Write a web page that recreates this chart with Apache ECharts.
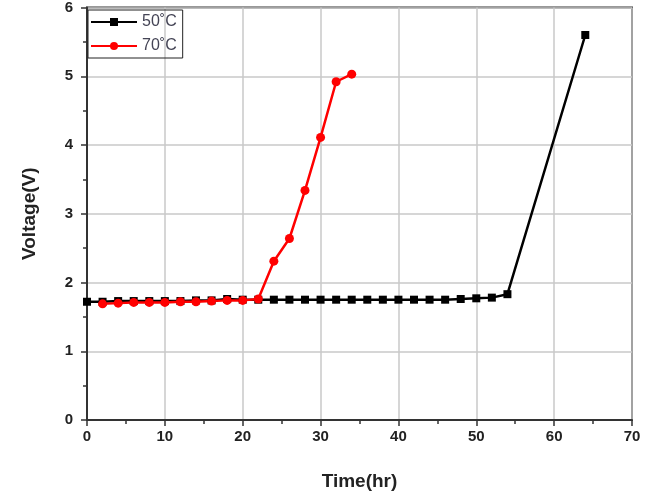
<!DOCTYPE html>
<html>
<head>
<meta charset="utf-8">
<script src="https://cdn.jsdelivr.net/npm/echarts@6/dist/echarts.min.js"></script>
<style>
  html, body { margin: 0; padding: 0; background: #fff; }
  #chart { width: 650px; height: 496px; }
</style>
</head>
<body>
<div id="chart"></div>
<script>
// 50°C series
const time50 = [0, 2, 4, 6, 8, 10, 12, 14, 16, 18, 20, 22, 24, 26, 28, 30, 32, 34, 36, 38, 40, 42, 44, 46, 48, 50, 52, 54, 64];
const volt50 = [1.72, 1.72, 1.73, 1.73, 1.73, 1.73, 1.73, 1.74, 1.74, 1.76, 1.75, 1.75, 1.75, 1.75, 1.75, 1.75, 1.75, 1.75, 1.75, 1.75, 1.75, 1.75, 1.75, 1.75, 1.76, 1.77, 1.78, 1.83, 5.6];
// 70°C series
const time70 = [2, 4, 6, 8, 10, 12, 14, 16, 18, 20, 22, 24, 26, 28, 30, 32, 34];
const volt70 = [1.69, 1.70, 1.71, 1.71, 1.71, 1.72, 1.72, 1.73, 1.74, 1.74, 1.76, 2.31, 2.64, 3.34, 4.11, 4.92, 5.03];

const seriesNames = ['50˚C', '70˚C'];

const pairs = (xs, ys) => xs.map((x, i) => [x, ys[i]]);

const chart = echarts.init(document.getElementById('chart'));

const tickLabel = {
  color: '#222',
  fontSize: 15,
  fontWeight: 'bold',
  fontFamily: 'Liberation Sans'
};
const axisName = {
  fontSize: 19,
  fontWeight: 'bold',
  color: '#222',
  fontFamily: 'Liberation Sans'
};

chart.setOption({
  backgroundColor: '#fff',
  animation: false,
  grid: {
    left: 87,
    right: 18,
    top: 7,
    bottom: 75,
    show: true,
    borderColor: '#333',
    borderWidth: 2,
    backgroundColor: 'transparent'
  },
  legend: {
    data: seriesNames,
    orient: 'vertical',
    left: 88,
    top: 10,
    itemWidth: 46,
    itemHeight: 10,
    itemGap: 8,
    padding: [4, 6, 4, 2],
    borderColor: '#222',
    borderWidth: 1,
    textStyle: {
      fontSize: 16,
      color: '#445',
      fontFamily: 'Liberation Sans'
    }
  },
  xAxis: {
    type: 'value',
    min: 0,
    max: 70,
    interval: 10,
    name: 'Time(hr)',
    nameLocation: 'middle',
    nameGap: 52,
    nameTextStyle: axisName,
    axisLine: { lineStyle: { color: '#333', width: 2 } },
    axisTick: { length: 6, lineStyle: { color: '#333', width: 1.5 } },
    minorTick: { show: true, splitNumber: 2, length: 4, lineStyle: { color: '#333', width: 1.5 } },
    axisLabel: Object.assign({ margin: 9 }, tickLabel),
    splitLine: { show: true, lineStyle: { color: '#c8c8c8', width: 1.5 } }
  },
  yAxis: {
    type: 'value',
    min: 0,
    max: 6,
    interval: 1,
    name: 'Voltage(V)',
    nameLocation: 'middle',
    nameGap: 48,
    nameTextStyle: axisName,
    axisLine: { show: true, lineStyle: { color: '#333', width: 2 } },
    axisTick: { show: true, length: 6, lineStyle: { color: '#333', width: 1.5 } },
    minorTick: { show: true, splitNumber: 2, length: 4, lineStyle: { color: '#333', width: 1.5 } },
    axisLabel: Object.assign({ margin: 14 }, tickLabel),
    splitLine: { show: true, lineStyle: { color: '#c8c8c8', width: 1.5 } }
  },
  series: [
    {
      name: seriesNames[0],
      type: 'line',
      data: pairs(time50, volt50),
      symbol: 'rect',
      symbolSize: 8,
      lineStyle: { color: '#000', width: 2.5 },
      itemStyle: { color: '#000' }
    },
    {
      name: seriesNames[1],
      type: 'line',
      data: pairs(time70, volt70),
      symbol: 'circle',
      symbolSize: 9,
      lineStyle: { color: '#f00', width: 2.5 },
      itemStyle: { color: '#f00' }
    }
  ]
});
</script>
</body>
</html>
